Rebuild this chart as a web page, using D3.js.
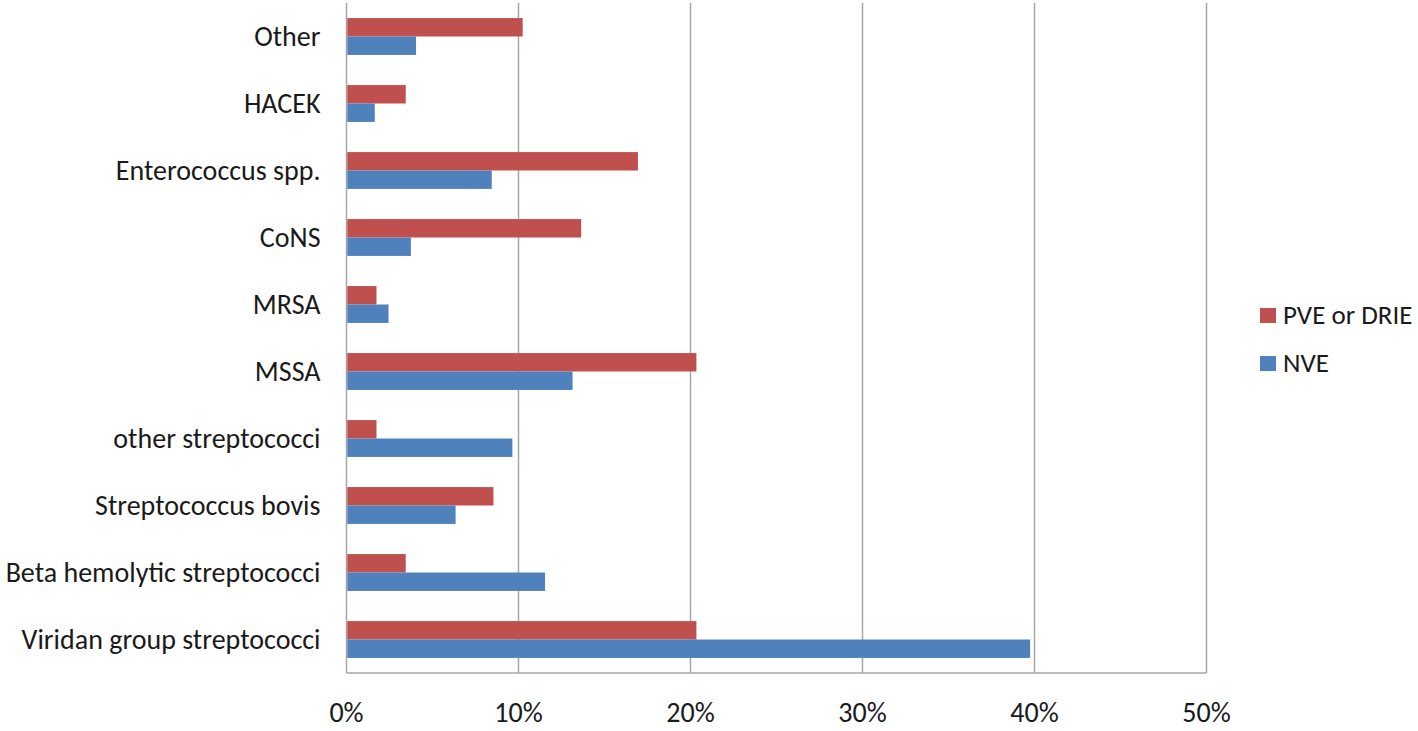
<!DOCTYPE html>
<html>
<head>
<meta charset="utf-8">
<script src="https://cdn.jsdelivr.net/npm/d3@7"></script>
<style>
  body { margin: 0; background: #fff; }
  text { font-family: Carlito, Calibri, "Open Sans", sans-serif; fill: #1a1a1a; }
</style>
</head>
<body>
<div id="chart"></div>
<script>
// categories, top to bottom
var categories = ["Other", "HACEK", "Enterococcus spp.", "CoNS", "MRSA", "MSSA",
                  "other streptococci", "Streptococcus bovis",
                  "Beta hemolytic streptococci", "Viridan group streptococci"];
var seriesNames = ["PVE or DRIE", "NVE"];
var pveValues = [10.2, 3.4, 16.9, 13.6, 1.7, 20.3, 1.7, 8.5, 3.4, 20.3];
var nveValues = [4.0, 1.6, 8.4, 3.7, 2.4, 13.1, 9.6, 6.3, 11.5, 39.7];
var xTicks = [0, 10, 20, 30, 40, 50];
var colors = ["#C0504D", "#4F81BD"];

var W = 1418, H = 731;
var margin = { top: 3, left: 346.5, right: 211.5, bottom: 58 };
var w = W - margin.left - margin.right,
    h = H - margin.top - margin.bottom;

var svg = d3.select("#chart").append("svg")
    .attr("width", W)
    .attr("height", H);

var g = svg.append("g")
    .attr("transform", "translate(" + margin.left + "," + margin.top + ")");

var x = d3.scaleLinear().domain([0, 50]).range([0, w]);
var y = d3.scaleBand().domain(categories).range([0, h]).paddingInner(0.45).paddingOuter(0.225);
var ySub = d3.scaleBand().domain(seriesNames).range([0, y.bandwidth()]);

// gridlines
g.selectAll(".grid").data(xTicks)
  .enter().append("line")
    .attr("x1", function(d) { return x(d); })
    .attr("x2", function(d) { return x(d); })
    .attr("y1", 0).attr("y2", h)
    .attr("stroke", "#a6a6a6").attr("stroke-width", 1.5);

// bottom axis line
g.append("line")
    .attr("x1", 0).attr("x2", w).attr("y1", h).attr("y2", h)
    .attr("stroke", "#a6a6a6").attr("stroke-width", 1.5);

var rows = categories.map(function(c, i) {
  return [{ cat: c, s: seriesNames[0], v: pveValues[i] },
          { cat: c, s: seriesNames[1], v: nveValues[i] }];
});

var grp = g.selectAll(".cat").data(rows)
  .enter().append("g")
    .attr("transform", function(d) { return "translate(0," + y(d[0].cat) + ")"; });

grp.selectAll("rect").data(function(d) { return d; })
  .enter().append("rect")
    .attr("x", 0.75)
    .attr("y", function(d) { return ySub(d.s); })
    .attr("width", function(d) { return x(d.v); })
    .attr("height", ySub.bandwidth())
    .attr("fill", function(d, i) { return colors[i]; });

// category labels
g.selectAll(".lbl").data(categories)
  .enter().append("text")
    .attr("x", -26)
    .attr("y", function(d) { return y(d) + y.bandwidth() / 2; })
    .attr("dy", "0.33em")
    .attr("text-anchor", "end")
    .attr("font-size", 28)
    .text(function(d) { return d; });

// x tick labels
g.selectAll(".tick").data(xTicks)
  .enter().append("text")
    .attr("x", function(d) { return x(d); })
    .attr("y", h + 49)
    .attr("text-anchor", "middle")
    .attr("font-size", 28)
    .text(function(d) { return d + "%"; });

// legend
var leg = svg.selectAll(".leg").data(seriesNames)
  .enter().append("g")
    .attr("transform", function(d, i) { return "translate(1260," + (308 + i * 48) + ")"; });
leg.append("rect")
    .attr("width", 16).attr("height", 15)
    .attr("fill", function(d, i) { return colors[i]; });
leg.append("text")
    .attr("x", 23).attr("y", 16)
    .attr("font-size", 27)
    .text(function(d) { return d; });
</script>
</body>
</html>
